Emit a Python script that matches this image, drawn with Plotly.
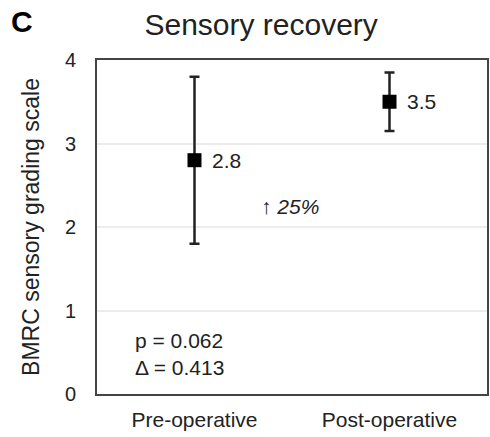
import plotly.graph_objects as go

# Group means with their error bar half-widths
groups = ["Pre-operative", "Post-operative"]
means = [2.8, 3.5]
errors = [1.0, 0.35]
mean_labels = ["2.8", "3.5"]
change_label = "25%"
p_value = "0.062"
delta_value = "0.413"
y_ticks = [0, 1, 2, 3, 4]

FONT = "Liberation Sans, Arial, sans-serif"
INK = "#222222"

fig = go.Figure()
fig.add_trace(go.Scatter(
    x=groups,
    y=means,
    mode="markers",
    marker=dict(symbol="square", size=14, color="black"),
    error_y=dict(type="data", array=errors, visible=True,
                 color=INK, thickness=2.5, width=5),
    showlegend=False,
))

# Value labels beside each mean
for g, m, lab in zip(groups, means, mean_labels):
    fig.add_annotation(
        x=g, y=m, xref="x", yref="y", text=lab, showarrow=False,
        xanchor="left", yanchor="middle", xshift=15,
        font=dict(family=FONT, size=21, color=INK),
    )

fig.add_annotation(
    x=0.49, y=2.24, xref="x", yref="y",
    text="↑ <i>" + change_label + "</i>",
    showarrow=False, xanchor="center", yanchor="middle",
    font=dict(family=FONT, size=21, color=INK),
)
fig.add_annotation(
    x=0.092, y=0.04, xref="paper", yref="paper",
    text="p = " + p_value + "<br>Δ = " + delta_value,
    showarrow=False, xanchor="left", yanchor="bottom", align="left",
    font=dict(family=FONT, size=21, color=INK),
)
fig.add_annotation(
    x=-0.193, y=1.115, xref="paper", yref="paper",
    text="<b>C</b>", showarrow=False, xanchor="center", yanchor="middle",
    font=dict(family=FONT, size=30, color="black"),
)

fig.update_layout(
    width=490, height=437,
    margin=dict(l=97, r=1, t=60, b=43),
    paper_bgcolor="white", plot_bgcolor="white",
    title=dict(text="Sensory recovery", x=0.533, xanchor="center",
               y=0.945, yanchor="middle",
               font=dict(family=FONT, size=30, color=INK)),
    xaxis=dict(range=[-0.5, 1.5], showline=True, linecolor="#444444",
               linewidth=2, mirror=True, ticks="", showgrid=False,
               ticklabelstandoff=6,
               tickfont=dict(family=FONT, size=21, color=INK)),
    yaxis=dict(range=[0, 4], tickvals=y_ticks, showline=True,
               linecolor="#444444", linewidth=2, mirror=True, ticks="",
               showgrid=True, gridcolor="#ececec", gridwidth=1.5,
               zeroline=False, ticklabelstandoff=15,
               tickfont=dict(family=FONT, size=20, color=INK),
               title=dict(text="BMRC sensory grading scale", standoff=19,
                          font=dict(family=FONT, size=23, color=INK))),
)

fig.write_html("out.html")
